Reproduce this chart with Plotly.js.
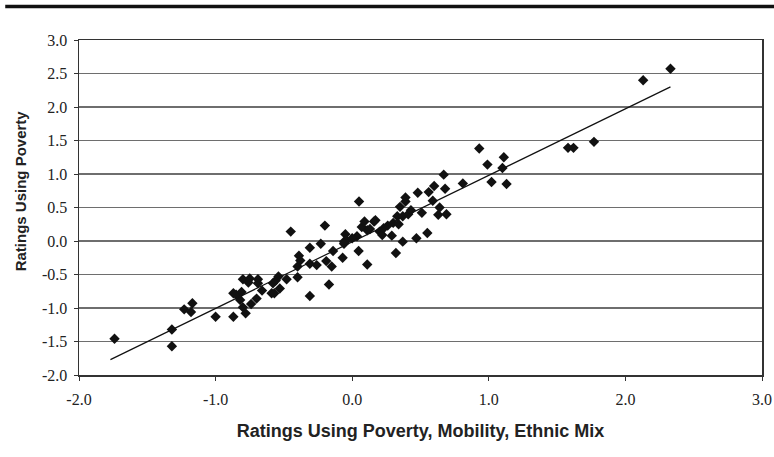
<!DOCTYPE html>
<html>
<head>
<meta charset="utf-8">
<script src="https://cdn.plot.ly/plotly-3.0.1.min.js"></script>
<style>html,body{margin:0;padding:0;background:#fff;}#chart{width:774px;height:457px;}</style>
</head>
<body>
<div id="chart"></div>
<script>
// Data
const xValues = [
  -1.74, -1.32, -1.32, -1.23, -1.17, -1.18, -1.00,
  -0.87, -0.87, -0.85, -0.82, -0.81, -0.80, -0.78, -0.74, -0.70, -0.80, -0.75, -0.69, -0.69, -0.76,
  -0.66, -0.59, -0.57, -0.53, -0.58, -0.56, -0.54, -0.48, -0.40, -0.40, -0.39, -0.38, -0.31, -0.26,
  -0.19, -0.15, -0.17, -0.31, -0.45, -0.20, -0.31, -0.23, -0.14, -0.05, -0.06, 0.035, 0.047, -0.07, 0.05,
  -0.04, -0.06, 0.07, 0.11, 0.09, 0.16, 0.17, 0.20, 0.22, 0.23, 0.26, 0.29, 0.30, 0.34, 0.11, 0.32,
  0.37, 0.47, 0.55, 0.33, 0.37, 0.41, 0.43, 0.35, 0.39, 0.39, 0.48, 0.51, 0.56, 0.59, 0.60, 0.68,
  0.67, 0.64, 0.63, 0.69, 0.81, 0.93, 0.99, 1.02, 0.00, 0.13,
  2.33, 2.13, 1.77, 1.58, 1.62, 1.11, 1.10, 1.13
];
const yValues = [
  -1.46, -1.32, -1.57, -1.02, -0.93, -1.06, -1.13,
  -1.13, -0.78, -0.80, -0.88, -0.76, -0.99, -1.08, -0.94, -0.86, -0.57, -0.56, -0.57, -0.63, -0.62,
  -0.74, -0.78, -0.78, -0.71, -0.63, -0.59, -0.53, -0.57, -0.54, -0.38, -0.22, -0.29, -0.34, -0.36,
  -0.30, -0.38, -0.65, -0.82, 0.14, 0.23, -0.10, -0.04, -0.15, 0.10, -0.01, 0.07, -0.15, -0.25, 0.59,
  0.01, -0.04, 0.21, 0.16, 0.29, 0.29, 0.31, 0.14, 0.09, 0.19, 0.23, 0.08, 0.27, 0.25, -0.35, -0.18,
  -0.01, 0.04, 0.12, 0.37, 0.37, 0.40, 0.46, 0.51, 0.59, 0.65, 0.72, 0.42, 0.73, 0.60, 0.82, 0.78,
  0.99, 0.50, 0.39, 0.40, 0.86, 1.38, 1.14, 0.88, 0.04, 0.18,
  2.57, 2.40, 1.48, 1.39, 1.39, 1.25, 1.09, 0.85
];
// Linear trend line end points
const trendX = [-1.77, 2.33];
const trendY = [-1.77, 2.30];

const xTickVals = [-2, -1, 0, 1, 2, 3];
const xTickText = ['-2.0', '-1.0', '0.0', '1.0', '2.0', '3.0'];
const yTickVals = [-2, -1.5, -1, -0.5, 0, 0.5, 1, 1.5, 2, 2.5, 3];
const yTickText = ['-2.0', '-1.5', '-1.0', '-0.5', '0.0', '0.5', '1.0', '1.5', '2.0', '2.5', '3.0'];

const xTitle = '<b>Ratings Using Poverty, Mobility, Ethnic Mix</b>';
const yTitle = '<b>Ratings Using Poverty</b>';

const traces = [
  {
    x: xValues, y: yValues, type: 'scatter', mode: 'markers',
    marker: {symbol: 'diamond', size: 8, color: '#111'},
    hoverinfo: 'x+y', showlegend: false
  },
  {
    x: trendX, y: trendY, type: 'scatter', mode: 'lines',
    line: {color: '#111', width: 1.2},
    hoverinfo: 'skip', showlegend: false
  }
];

const serif = '"Times New Roman", "Liberation Serif", "DejaVu Serif", serif';
const tickFont = {family: serif, size: 16, color: '#222'};

const layout = {
  width: 774, height: 457,
  margin: {l: 79, r: 12, t: 40, b: 82},
  paper_bgcolor: '#fff', plot_bgcolor: '#fff',
  showlegend: false,
  font: {family: serif, size: 16, color: '#222'},
  xaxis: {
    range: [-2, 3], tickvals: xTickVals, ticktext: xTickText,
    showgrid: false, zeroline: false,
    showline: true, linecolor: '#333', linewidth: 1.5, mirror: true,
    ticks: 'outside', ticklen: 4, tickcolor: '#333', tickwidth: 1,
    ticklabelstandoff: 5,
    tickfont: tickFont,
    title: {text: xTitle, font: {family: 'Liberation Sans, Arial, sans-serif', size: 18, color: '#222'}, standoff: 17}
  },
  yaxis: {
    range: [-2, 3], tickvals: yTickVals, ticktext: yTickText,
    showgrid: true, gridcolor: '#6e6e6e', gridwidth: 1.3, zeroline: false,
    showline: true, linecolor: '#333', linewidth: 1.5, mirror: true,
    ticks: 'outside', ticklen: 4, tickcolor: '#333', tickwidth: 1,
    ticklabelstandoff: 3,
    tickfont: tickFont
  },
  annotations: [
    {text: yTitle, xref: 'paper', yref: 'paper', x: -0.086, y: 0.549,
     xanchor: 'center', yanchor: 'middle', textangle: -90, showarrow: false,
     font: {family: 'Liberation Sans, Arial, sans-serif', size: 15, color: '#222'}}
  ],
  shapes: [
    {type: 'line', xref: 'paper', yref: 'paper', x0: -0.108, x1: 1.02, y0: 1.1, y1: 1.1,
     line: {color: '#111', width: 3.5}}
  ]
};

Plotly.newPlot('chart', traces, layout, {displayModeBar: false, staticPlot: true});
</script>
</body>
</html>
